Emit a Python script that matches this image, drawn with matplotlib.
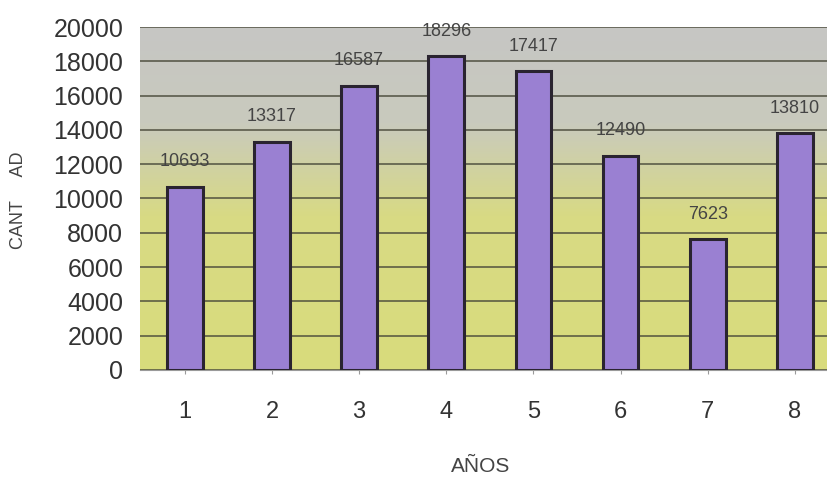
import numpy as np
import matplotlib
matplotlib.use("Agg")
import matplotlib.pyplot as plt
from matplotlib.colors import LinearSegmentedColormap

plt.rcParams['font.family'] = ['Liberation Sans', 'DejaVu Sans']

anios    = [1, 2, 3, 4, 5, 6, 7, 8]
cantidad = [10693, 13317, 16587, 18296, 17417, 12490, 7623, 13810]
yticks   = [0, 2000, 4000, 6000, 8000, 10000, 12000, 14000, 16000, 18000, 20000]

fig = plt.figure(figsize=(8.28, 4.79), dpi=100)
ax = fig.add_axes([0.169, 0.2276, 0.831, 0.716])

# fondo degradado amarillo -> gris
cmap = LinearSegmentedColormap.from_list(
    'fondo', [(0.0, '#d9dc7c'), (0.45, '#d8da84'), (0.72, '#c9cabd'), (1.0, '#c6c6c4')])
grad = np.linspace(0, 1, 256).reshape(-1, 1)
ax.imshow(grad, cmap=cmap, aspect='auto', origin='lower',
          extent=[0, 1, 0, 1], transform=ax.transAxes, zorder=0)

ax.set_ylim(0, 20000)
ax.set_xlim(0.485, 8.38)
ax.set_yticks(yticks)
ax.yaxis.grid(True, color='#4a4a3a', linewidth=1.3, alpha=0.8, zorder=1)
ax.set_axisbelow(False)

bars = ax.bar(anios, cantidad, width=0.41, color='#9a80d2', edgecolor='#2a2430',
              linewidth=2.2, zorder=3)

for x, v in zip(anios, cantidad):
    ax.annotate(str(v), (x, v), xytext=(0, 18), textcoords='offset points',
                ha='center', va='center', fontsize=13, color='#444444', zorder=4)

for s in ['left', 'right', 'top']:
    ax.spines[s].set_visible(False)
ax.spines['bottom'].set_color('#9a9a9a')

ax.tick_params(axis='y', length=0, pad=12, labelsize=18, labelcolor='#333333')
ax.tick_params(axis='x', length=3, color='#9a9a9a', pad=19, labelsize=17,
               labelcolor='#333333')
ax.set_xticks(anios)

fig.text(0.022, 0.582, 'CANT     AD', rotation=90, ha='center', va='center',
         fontsize=13, color='#444444')
fig.text(0.581, 0.026, 'AÑOS', ha='center', va='center', fontsize=15, color='#444444')

fig.savefig('out.png', dpi=100)
